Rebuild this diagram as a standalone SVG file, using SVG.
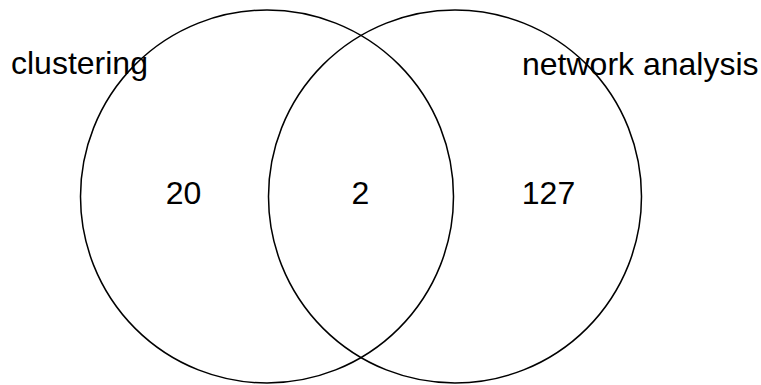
<svg xmlns="http://www.w3.org/2000/svg" width="761" height="385" viewBox="0 0 761 385">
<style>
.set{fill:none;stroke:#000;stroke-width:1.5}
text{font-family:"Liberation Sans",Arial,sans-serif;font-size:32px;fill:#000}
.c{text-anchor:middle}
</style>
<rect width="761" height="385" fill="#fff"/>
<g id="set-clustering">
<circle class="set" cx="267" cy="196.5" r="186.5"/>
<text x="11" y="74">clustering</text>
<text class="c" x="183.5" y="204">20</text>
</g>
<g id="set-network-analysis">
<circle class="set" cx="455" cy="196.5" r="186.5"/>
<text x="522" y="75">network analysis</text>
<text class="c" x="548.5" y="204">127</text>
</g>
<g id="overlap">
<text class="c" x="360.5" y="204">2</text>
</g>
<g id="connectors"></g>
</svg>
